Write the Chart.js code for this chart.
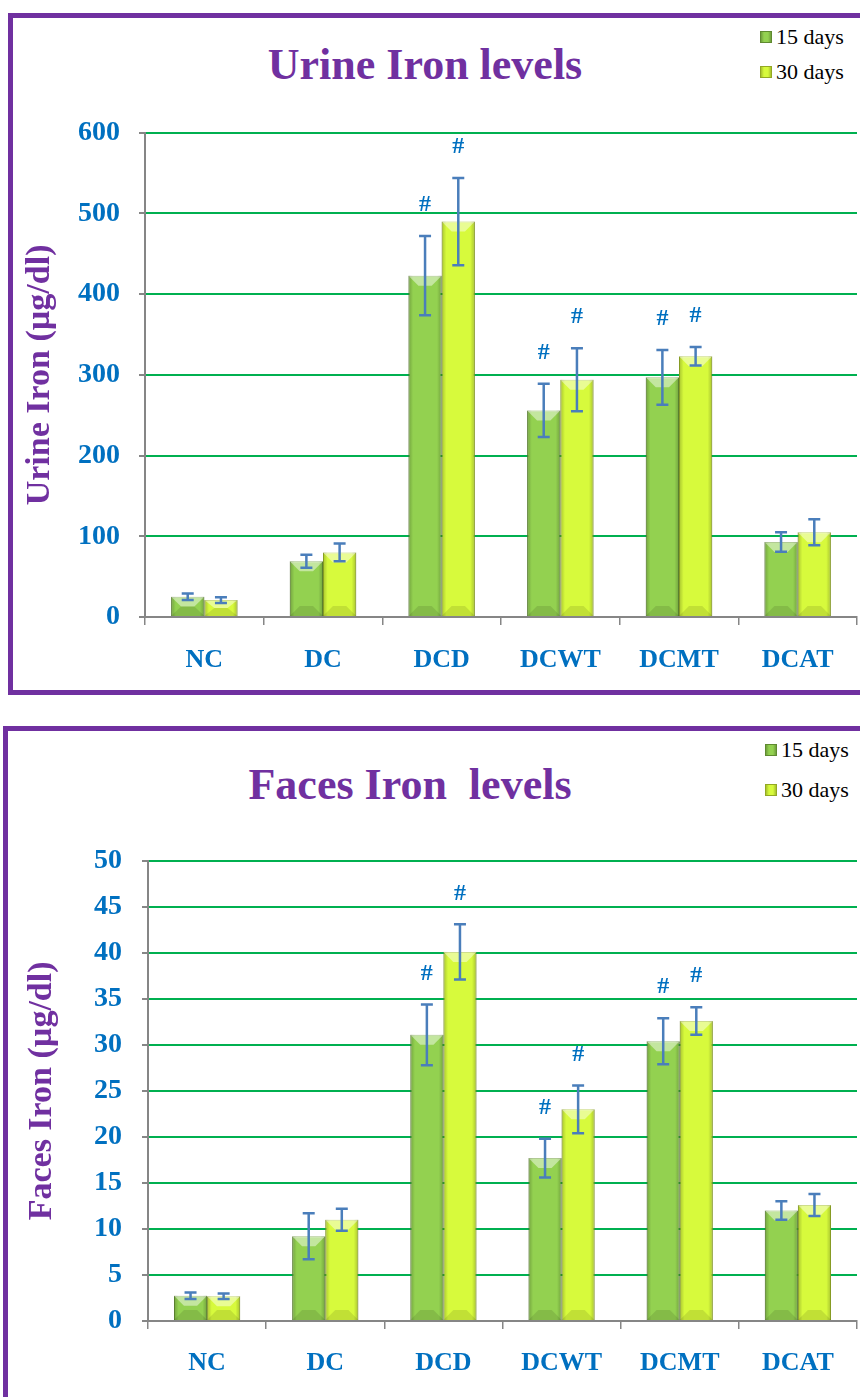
<!DOCTYPE html>
<html>
<head>
<meta charset="utf-8">
<script src="https://cdn.jsdelivr.net/npm/chart.js@4.4.1/dist/chart.umd.min.js"></script>
<style>
  html, body { margin:0; padding:0; background:#fff; }
  body { width:860px; height:1397px; position:relative; overflow:hidden; font-family:"Liberation Serif", serif; }
  .frame { position:absolute; border:5px solid #7030A0; box-sizing:border-box; background:#fff; }
  #frameOrina { left:8px; top:13px; width:900px; height:682px; }
  #frameHeces { left:3px; top:726px; width:900px; height:720px; }
  .titulo { position:absolute; font-weight:bold; color:#7030A0; font-size:44px; white-space:pre; transform:translate(-50%,-50%); line-height:1; }
  .leyenda { position:absolute; font-size:22px; color:#000; line-height:1; }
  .leyenda .fila { position:absolute; left:0; display:flex; align-items:center; height:24px; white-space:nowrap; transform:translateY(-50%); }
  .caja { width:12px; height:12px; margin-right:4px; box-sizing:border-box; }
  .c15 { background:linear-gradient(to right,#6f9e3b,#93d150 30%,#93d150 70%,#6f9e3b); border:1px solid #5f8a30; }
  .c30 { background:linear-gradient(to right,#a7c12c,#d7fa3c 30%,#d7fa3c 70%,#a7c12c); border:1px solid #93a824; }
  canvas { position:absolute; left:0; }
</style>
</head>
<body>

<div class="frame" id="frameOrina">
  <div class="titulo" style="left:412px; top:47px;">Urine Iron levels</div>
  <div class="leyenda" style="left:747px; top:0;">
    <div class="fila" style="top:19px;"><span class="caja c15"></span>15 days</div>
    <div class="fila" style="top:54px;"><span class="caja c30"></span>30 days</div>
  </div>
  <canvas id="graficoOrina" width="847" height="591" style="top:79px;"></canvas>
</div>

<div class="frame" id="frameHeces">
  <div class="titulo" style="left:402px; top:54px;">Faces Iron  levels</div>
  <div class="leyenda" style="left:757px; top:0;">
    <div class="fila" style="top:19px;"><span class="caja c15"></span>15 days</div>
    <div class="fila" style="top:59px;"><span class="caja c30"></span>30 days</div>
  </div>
  <canvas id="graficoHeces" width="852" height="573" style="top:93px;"></canvas>
</div>

<script>
// Datos
const categorias = ['NC', 'DC', 'DCD', 'DCWT', 'DCMT', 'DCAT'];
const serie15 = '15 days';
const serie30 = '30 days';

// Hierro en orina (µg/dl)
const orina15 = [25, 69, 423, 256, 297, 93];
const orina15Err = [4, 8, 49, 33, 34, 12];
const orina30 = [21, 80, 490, 294, 323, 105];
const orina30Err = [3.5, 11, 54, 39, 11.5, 16];
const orinaTicks = [0, 100, 200, 300, 400, 500, 600];

// Hierro en heces (µg/dl)
const heces15 = [2.75, 9.2, 31.1, 17.7, 30.4, 12.0];
const heces15Err = [0.35, 2.5, 3.3, 2.1, 2.5, 1.0];
const heces30 = [2.7, 11.0, 40.1, 23.0, 32.6, 12.6];
const heces30Err = [0.3, 1.2, 3.0, 2.6, 1.5, 1.2];
const hecesTicks = [0, 5, 10, 15, 20, 25, 30, 35, 40, 45, 50];

// marcas "#" (significativo)
const sig15 = [false, false, true, true, true, false];
const sig30 = [false, false, true, true, true, false];

const azul = '#0070C0';
const morado = '#7030A0';
const gris = '#868686';

// efecto de bisel sobre cada barra
const biselPlugin = {
    id: 'bisel',
    afterDatasetsDraw(chart) {
        const ctx = chart.ctx;
        chart.data.datasets.forEach((ds, i) => {
            chart.getDatasetMeta(i).data.forEach(bar => {
                const w = bar.width, l = bar.x - w / 2, r = bar.x + w / 2;
                const top = bar.y, base = bar.base;
                ctx.save();
                const g = ctx.createLinearGradient(l, 0, r, 0);
                g.addColorStop(0, 'rgba(0,0,0,0.22)');
                g.addColorStop(0.14, 'rgba(0,0,0,0)');
                g.addColorStop(0.86, 'rgba(0,0,0,0)');
                g.addColorStop(1, 'rgba(0,0,0,0.22)');
                ctx.fillStyle = g;
                ctx.fillRect(l, top, w, base - top);
                const h = Math.min(10, (base - top) / 2);
                ctx.fillStyle = 'rgba(255,255,255,0.45)';
                ctx.beginPath();
                ctx.moveTo(l, top); ctx.lineTo(r, top);
                ctx.lineTo(r - w * 0.3, top + h); ctx.lineTo(l + w * 0.3, top + h);
                ctx.closePath(); ctx.fill();
                ctx.fillStyle = 'rgba(0,0,0,0.10)';
                ctx.beginPath();
                ctx.moveTo(l, base); ctx.lineTo(r, base);
                ctx.lineTo(r - w * 0.3, base - h); ctx.lineTo(l + w * 0.3, base - h);
                ctx.closePath(); ctx.fill();
                ctx.restore();
            });
        });
    }
};

// barras de error y "#"
const errorPlugin = {
    id: 'errores',
    afterDatasetsDraw(chart) {
        const ctx = chart.ctx;
        const y = chart.scales.y;
        chart.data.datasets.forEach((ds, i) => {
            chart.getDatasetMeta(i).data.forEach((bar, j) => {
                const v = ds.data[j], e = ds.errores[j];
                const yTop = y.getPixelForValue(v + e);
                const yBot = y.getPixelForValue(v - e);
                ctx.save();
                ctx.strokeStyle = '#4A7EBB';
                ctx.lineWidth = 2.5;
                ctx.beginPath();
                ctx.moveTo(bar.x, yTop); ctx.lineTo(bar.x, yBot);
                ctx.moveTo(bar.x - 6, yTop); ctx.lineTo(bar.x + 6, yTop);
                ctx.moveTo(bar.x - 6, yBot); ctx.lineTo(bar.x + 6, yBot);
                ctx.stroke();
                if (ds.sig[j]) {
                    ctx.fillStyle = azul;
                    ctx.font = 'bold 24px "Liberation Serif"';
                    ctx.textAlign = 'center';
                    ctx.textBaseline = 'middle';
                    ctx.fillText('#', bar.x, yTop - 31);
                }
                ctx.restore();
            });
        });
    }
};

function crearGrafico(id, cfg) {
    const ctx = document.getElementById(id).getContext('2d');
    return new Chart(ctx, {
        type: 'bar',
        data: {
            labels: categorias,
            datasets: [
                { label: serie15, data: cfg.d15, errores: cfg.e15, sig: sig15,
                  backgroundColor: '#93D150', borderColor: '#6F9E3B', borderWidth: 1,
                  categoryPercentage: 0.56, barPercentage: 1 },
                { label: serie30, data: cfg.d30, errores: cfg.e30, sig: sig30,
                  backgroundColor: '#D7FA3C', borderColor: '#A7C12C', borderWidth: 1,
                  categoryPercentage: 0.56, barPercentage: 1 }
            ]
        },
        options: {
            responsive: false,
            animation: false,
            layout: { padding: { top: 14, right: 3, bottom: 0, left: 0 } },
            plugins: { legend: { display: false }, title: { display: false }, tooltip: { enabled: false } },
            scales: {
                x: {
                    afterFit: s => { s.height = cfg.altoX; },
                    grid: { display: true, offset: true, drawOnChartArea: false, drawTicks: true,
                            tickLength: 8, color: gris, lineWidth: 1.5 },
                    border: { color: gris, width: 2 },
                    ticks: { color: azul, padding: cfg.padX, font: { family: 'Liberation Serif', size: 26, weight: 'bold' } }
                },
                y: {
                    min: 0, max: cfg.ticks[cfg.ticks.length - 1],
                    afterFit: s => { s.width = cfg.anchoY; },
                    afterBuildTicks: s => { s.ticks = cfg.ticks.map(v => ({ value: v })); },
                    grid: { color: c => c.tick && c.tick.value === 0 ? 'rgba(0,0,0,0)' : '#00B050',
                            lineWidth: 2, tickLength: 6, tickColor: gris },
                    border: { color: gris, width: 2 },
                    ticks: { color: azul, padding: cfg.padY, font: { family: 'Liberation Serif', size: 28, weight: 'bold' } },
                    title: { display: true, text: cfg.tituloY, color: morado, padding: { top: cfg.padTitulo, bottom: 0 },
                             font: { family: 'Liberation Serif', size: 34, weight: 'bold' } }
                }
            }
        },
        plugins: [biselPlugin, errorPlugin]
    });
}

crearGrafico('graficoOrina', {
    d15: orina15, e15: orina15Err, d30: orina30, e30: orina30Err,
    ticks: orinaTicks, tituloY: 'Urine Iron (µg/dl)',
    anchoY: 132, padY: 19, padTitulo: 7, altoX: 71, padX: 20
});

crearGrafico('graficoHeces', {
    d15: heces15, e15: heces15Err, d30: heces30, e30: heces30Err,
    ticks: hecesTicks, tituloY: 'Faces Iron (µg/dl)',
    anchoY: 140, padY: 20, padTitulo: 14, altoX: 76, padX: 19
});
</script>
</body>
</html>
